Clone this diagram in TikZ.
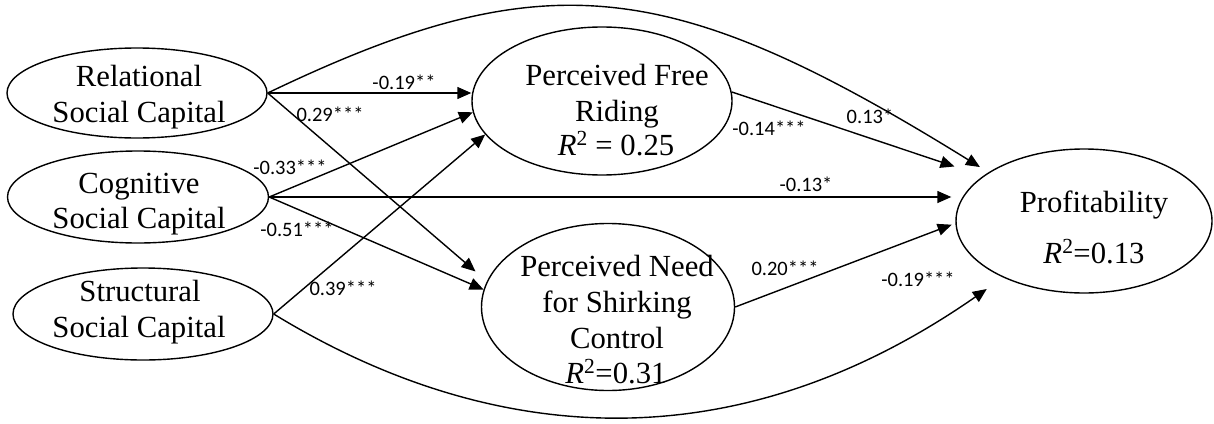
\documentclass[tikz,border=0pt]{standalone}
\usepackage{fontspec}
\setmainfont{Liberation Serif}
\newfontfamily\lblfont{Carlito}
\usetikzlibrary{arrows.meta,shapes.geometric}
\begin{document}
\begin{tikzpicture}[x=1pt,y=-1pt,
  ell/.style={draw, ellipse, line width=1.4pt, inner sep=0pt},
  txt/.style={font=\fontsize{30.7}{36}\selectfont, inner sep=0pt, anchor=base},
  lbl/.style={font=\lblfont\fontsize{20.5}{24}\selectfont, inner sep=0pt},
  arr/.style={line width=1.4pt, -{Triangle[length=14pt,width=12pt]}}]
\useasboundingbox (0,0) rectangle (1214,423);

% ellipses
\node[ell, minimum width=260pt, minimum height=90pt] (rel) at (137,93) {};
\node[ell, minimum width=261pt, minimum height=92pt] (cog) at (138,197) {};
\node[ell, minimum width=260pt, minimum height=92pt] (str) at (143,314) {};
\node[ell, minimum width=260pt, minimum height=148pt] (free) at (602,101) {};
\node[ell, minimum width=253pt, minimum height=167pt] (need) at (608,307) {};
\node[ell, minimum width=256pt, minimum height=144pt] (prof) at (1084,221) {};

% texts
\node[txt] (relA) at (139,86) {Relational};
\node[txt] (relB) at (139,122) {Social Capital};
\node[txt] (cogA) at (139,193) {Cognitive};
\node[txt] (cogB) at (139,228) {Social Capital};
\node[txt] (strA) at (140,301) {Structural};
\node[txt] (strB) at (139,337) {Social Capital};
\node[txt] (freeA) at (617,85) {Perceived Free};
\node[txt] (freeB) at (617,121) {Riding};
\node[txt] (freeC) at (616,155) {\textit{R}\textsuperscript{2} = 0.25};
\node[txt] (needA) at (617,276) {Perceived Need};
\node[txt] (needB) at (617,312) {for Shirking};
\node[txt] (needC) at (617,348) {Control};
\node[txt] (needD) at (616,383) {\textit{R}\textsuperscript{2}=0.31};
\node[txt] (profA) at (1094,212) {Profitability};
\node[txt] (profB) at (1094,263) {\textit{R}\textsuperscript{2}=0.13};

% connectors
\draw[arr] (rel.east) -- (rel.east -| free.west);
\draw[arr, shorten >=15pt] (rel.east) -- (need.168);
\draw[arr] (cog.east) -- (free.185);
\draw[arr, shorten >=4pt] (cog.east) -- (cog.east -| prof.west);
\draw[arr] (cog.east) -- (need.172);
\draw[arr] (str.east) -- (free.196);
\draw[arr, shorten >=30pt] (free.4) -- (prof.156);
\draw[arr, shorten >=4pt] (need.east) -- (prof.181);
\draw[arr, shorten >=10pt] (rel.east) .. controls (545,-40) and (670,-25) .. (prof.153);
\draw[arr, shorten >=20pt] (str.east) .. controls (455,425) and (705,485) .. (prof.215);

% labels
\node[lbl] (l1) at (404,82) {-0.19**};
\node[lbl] (l2) at (330,114) {0.29***};
\node[lbl] (l3) at (290,167) {-0.33***};
\node[lbl] (l4) at (297,229) {-0.51***};
\node[lbl] (l5) at (343,288) {0.39***};
\node[lbl] (l6) at (769,128) {-0.14***};
\node[lbl] (l7) at (870,116) {0.13*};
\node[lbl] (l8) at (806,184) {-0.13*};
\node[lbl] (l9) at (785,268) {0.20***};
\node[lbl] (l10) at (918,279) {-0.19***};
\end{tikzpicture}
\end{document}
